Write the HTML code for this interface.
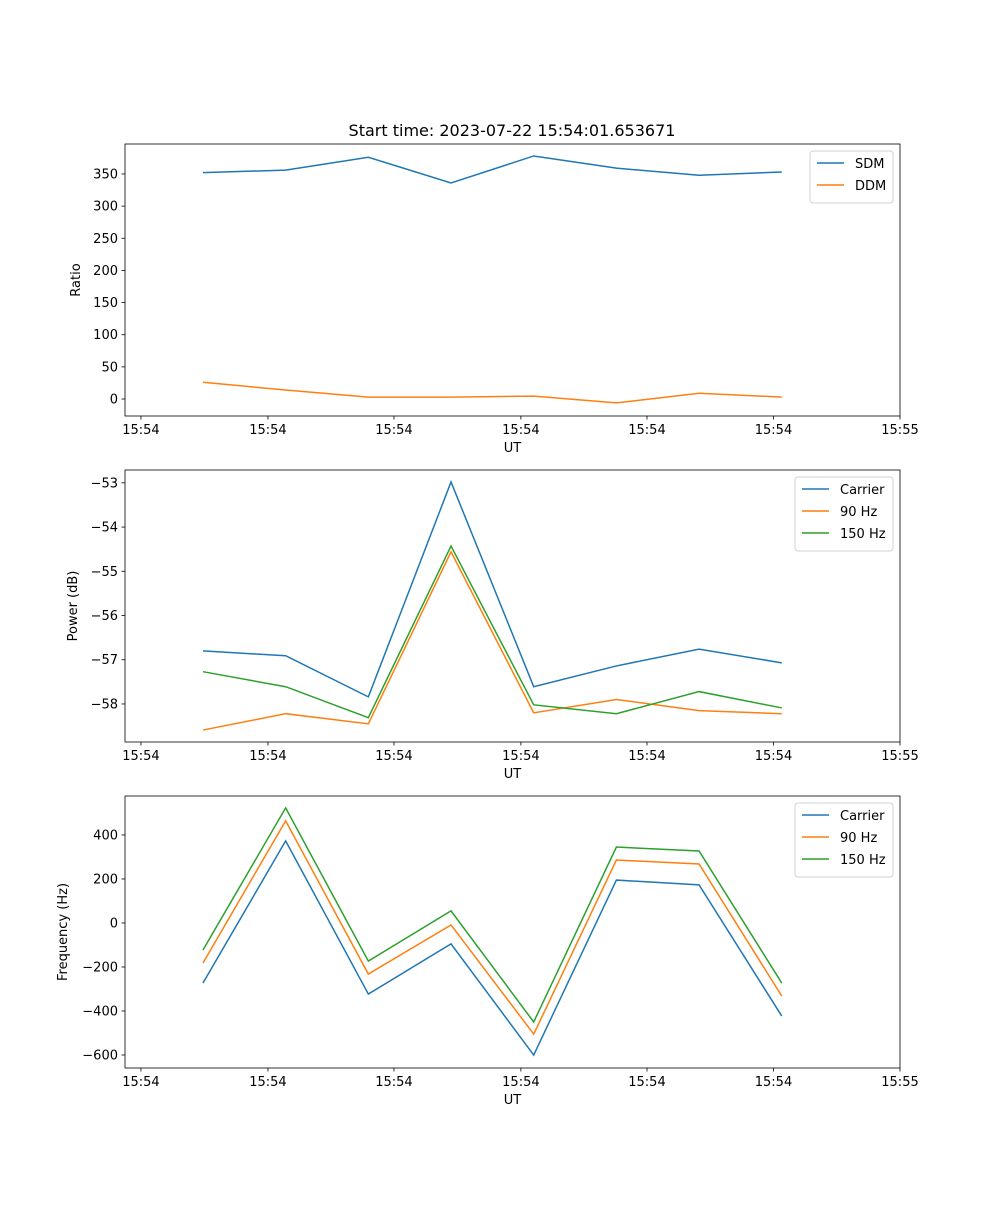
<!DOCTYPE html>
<html><head><meta charset="utf-8"><style>
body{margin:0;background:#fff}
svg text{font-family:"DejaVu Sans","Liberation Sans",sans-serif;fill:#000}
</style></head><body>
<svg id="fig" width="1000" height="1200" xmlns="http://www.w3.org/2000/svg">
<rect width="1000" height="1200" fill="#fff"/>
<text x="512" y="136" font-size="16" text-anchor="middle">Start time: 2023-07-22 15:54:01.653671</text>
</svg>
<script>
const xIdx = [0,1,2,3,4,5,6,7];
const xTickVals = [-0.75,0.786,2.31,3.845,5.37,6.90,8.43];
const xTickLabels = ["15:54","15:54","15:54","15:54","15:54","15:54","15:55"];
const sdm = [352,356,376,336,378,359,348,353];
const ddm = [26,14,3,3,4.5,-6,9,3];
const pCarrier = [-56.80,-56.91,-57.84,-52.98,-57.61,-57.14,-56.76,-57.07];
const p90 = [-58.59,-58.22,-58.45,-54.56,-58.20,-57.90,-58.15,-58.22];
const p150 = [-57.27,-57.61,-58.31,-54.43,-58.02,-58.22,-57.72,-58.09];
const fCarrier = [-273,373,-323,-95,-600,195,173,-423];
const f90 = [-182,464,-232,-9,-505,286,268,-332];
const f150 = [-123,523,-173,55,-450,345,327,-273];
const ticks1 = [0,50,100,150,200,250,300,350];
const ticks2 = [-58,-57,-56,-55,-54,-53];
const ticks3 = [-600,-400,-200,0,200,400];
const C = ["#1f77b4","#ff7f0e","#2ca02c"];
const NS="http://www.w3.org/2000/svg";
const svg=document.getElementById('fig');
function el(t,a,p){const e=document.createElementNS(NS,t);for(const k in a)e.setAttribute(k,a[k]);(p||svg).appendChild(e);return e;}
const L=125,R=900,xmin=-0.943,xmax=8.43;
const sx=v=>L+(v-xmin)/(xmax-xmin)*(R-L);
function panel(name,top,bot,ymin,ymax,yticks,ylabel,series,names,legend){
  const g=el('g',{});
  
  
  const sy=v=>bot-(v-ymin)/(ymax-ymin)*(bot-top);
  series.forEach((s,i)=>{
    const pl=el('polyline',{points:s.map((v,j)=>sx(xIdx[j])+','+sy(v)).join(' '),fill:'none',stroke:C[i],'stroke-width':1.5},g);
    
    
  });
  el('rect',{x:L,y:top,width:R-L,height:bot-top,fill:'none',stroke:'#000','stroke-width':0.8},g);
  xTickVals.forEach((v,i)=>{const x=sx(v);
    el('line',{x1:x,x2:x,y1:bot,y2:bot+3.5,stroke:'#000','stroke-width':0.8},g);
    const t=el('text',{x:x,y:bot+18,'font-size':13,'text-anchor':'middle'},g);t.textContent=xTickLabels[i];
    
    });
  yticks.forEach(v=>{const y=sy(v);
    el('line',{x1:L-3.5,x2:L,y1:y,y2:y,stroke:'#000','stroke-width':0.8},g);
    const t=el('text',{x:L-7,y:y+4.5,'font-size':13,'text-anchor':'end'},g);t.textContent=String(v).replace('-','\u2212');
    
    });
  const xl=el('text',{x:(L+R)/2,y:bot+36,'font-size':13,'text-anchor':'middle'},g);xl.textContent='UT';
  
  
  const cy=(top+bot)/2;
  const yl=el('text',{x:0,y:0,'font-size':13,'text-anchor':'middle',transform:`translate(${legend.yl},${cy}) rotate(-90)`},g);yl.textContent=ylabel;
  
  
  const lg=el('g',{},g);
  
  
  el('rect',{x:legend.x,y:top+7,width:R-7-legend.x,height:8+names.length*22,rx:3,fill:'#fff',stroke:'#ccc','stroke-width':1,opacity:0.9},lg);
  names.forEach((n,i)=>{const y=top+19+i*22;
    el('line',{x1:legend.x+7,x2:legend.x+34,y1:y,y2:y,stroke:C[i],'stroke-width':1.5},lg);
    const t=el('text',{x:legend.x+45,y:y+5,'font-size':13},lg);t.textContent=n;
    
    });
}
panel('ratio-panel',144,416,-26.4,396.6,ticks1,'Ratio',[sdm,ddm],['SDM','DDM'],{x:810,yl:80});
panel('power-panel',470,742,-58.86,-52.71,ticks2,'Power (dB)',[pCarrier,p90,p150],['Carrier','90 Hz','150 Hz'],{x:795,yl:77});
panel('frequency-panel',796,1068,-659,577,ticks3,'Frequency (Hz)',[fCarrier,f90,f150],['Carrier','90 Hz','150 Hz'],{x:795,yl:67});
</script>
</body></html>
